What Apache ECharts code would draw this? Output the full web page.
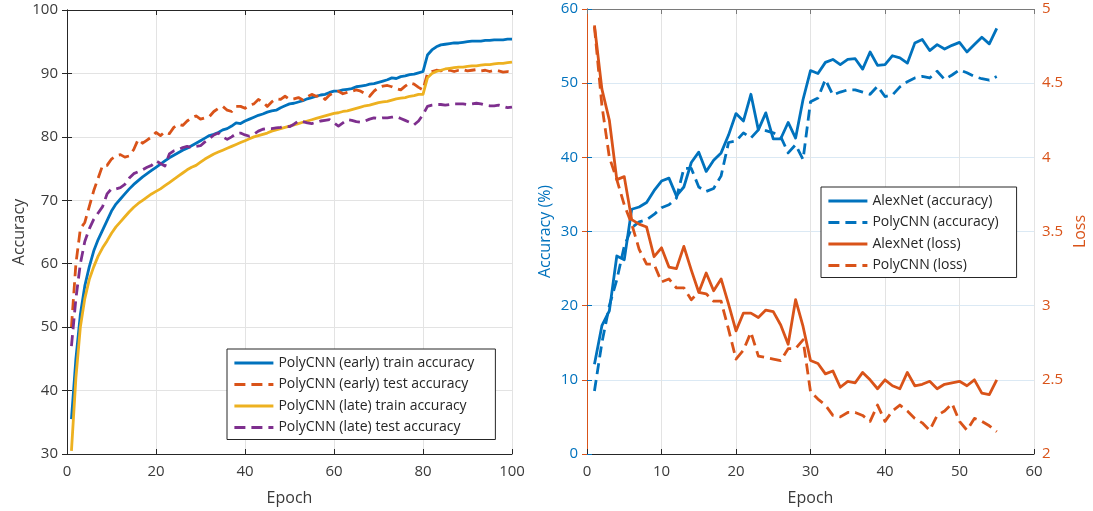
<!DOCTYPE html>
<html>
<head>
<meta charset="utf-8">
<script src="https://cdn.jsdelivr.net/npm/echarts@6/dist/echarts.min.js"></script>
<style>
html,body{margin:0;padding:0;background:#fff;}
#chart{width:1093px;height:511px;}
</style>
</head>
<body>
<div id="chart"></div>
<script>
// ---------- Left chart data (epochs 1..100) ----------
const earlyTrain = [35.5,45,52,56.5,59.5,62,63.8,65.3,66.8,68.3,69.4,70.2,71,71.8,72.5,73.1,73.7,74.2,74.7,75.2,75.7,76.2,76.7,77.1,77.5,77.9,78.2,78.6,79,79.4,79.8,80.2,80.4,80.7,81.1,81.3,81.7,82.2,82.1,82.5,82.8,83.1,83.4,83.6,83.9,84.1,84.2,84.6,84.9,85.2,85.3,85.5,85.7,86,86.2,86.4,86.6,86.7,87,87.2,87.2,87.4,87.5,87.6,87.9,88,88.1,88.3,88.4,88.6,88.8,89,89.3,89.2,89.5,89.6,89.8,89.9,90.1,90.3,92.9,93.7,94.2,94.5,94.6,94.7,94.8,94.8,94.9,95,95.1,95.1,95.1,95.2,95.2,95.3,95.3,95.3,95.4,95.4];
const earlyTest = [50,60,65.5,66.5,69,71.5,73.5,75.5,75.5,76.5,77,77.2,76.8,77,78,79.6,79,79.5,80,80.7,80.2,80.8,80.5,81.5,82,81.8,82.5,83,83.3,82.8,83,83.2,84,84.5,84.8,84.2,84,84.8,84.8,84.5,85,85.2,85.9,85.5,84.8,85.5,86,85.9,86.4,85.9,86,86.2,85.8,86.3,86.7,86.4,86.5,85.9,86.6,87,87.2,86.8,87,87.2,87.4,87.2,86.8,86.4,87.2,87.8,88,88.1,87.9,87.6,87.4,88,88.5,88.3,87.8,87.4,90,90.3,90.5,90.4,90.6,90.5,90.3,90.5,90.6,90.4,90.5,90.6,90.4,90.5,90.3,90.5,90.4,90.2,90.3,90.2];
const lateTrain = [30.5,42,50,54.5,57.5,59.5,61.2,62.5,63.6,64.8,65.8,66.6,67.4,68.2,68.9,69.5,70,70.5,71,71.4,71.8,72.3,72.8,73.3,73.8,74.3,74.8,75.2,75.5,76,76.5,76.9,77.3,77.6,77.9,78.2,78.5,78.8,79.1,79.4,79.7,80,80.2,80.4,80.6,80.9,81.1,81.3,81.5,81.7,81.9,82.1,82.3,82.5,82.7,82.9,83.1,83.3,83.5,83.7,83.8,84,84.1,84.3,84.5,84.7,84.9,85,85.2,85.4,85.5,85.6,85.8,86,86.1,86.2,86.4,86.5,86.7,86.7,89.3,90,90.3,90.5,90.7,90.8,90.9,91,91,91.1,91.2,91.2,91.3,91.4,91.4,91.5,91.6,91.6,91.7,91.8];
const lateTest = [47,54.5,60,63.5,65.5,67,68,69,71,71.8,71.8,72,72.5,73.5,74.2,74.5,74.8,75.2,75.5,76.2,75.8,75.4,77.3,77.8,78,78.3,78.5,78.3,78.5,78.6,79.2,79.7,80.3,80.6,80,79.6,80,80.5,80.6,80.3,80.1,80.4,80.9,81.2,81.3,81.3,81.4,81.5,81.7,81.6,82,82.5,82.4,82.2,82.1,82.3,82.5,82.6,82.7,82.2,81.7,82.2,82.7,82.6,82.4,82.3,82.5,82.8,83,82.9,83,83,83.1,83.2,82.9,82.6,82.3,81.9,82.5,83.5,84.8,85,85.1,85.1,85,85.1,85.2,85.2,85.2,85.1,85.2,85.3,85.2,85,84.9,84.9,85,84.8,84.6,84.7];

// ---------- Right chart data (epochs 1..55) ----------
const alexAcc = [12.1,17.3,19.3,26.7,26.2,33,33.3,33.9,35.5,36.8,37.2,34.8,36,39.3,40.7,38.1,39.6,40.6,43,45.9,44.9,48.5,43.7,46,42.5,42.5,44.7,42.6,47.8,51.7,51.3,52.8,53.2,52.5,53.2,53.3,51.9,54.2,52.4,52.5,53.7,53.4,52.7,55.4,55.9,54.4,55.2,54.6,55.1,55.5,54.2,55.2,56.2,55.3,57.4];
const polyAcc = [8.5,15,20,23.5,28,30.5,31.3,31.6,32.3,33.2,33.6,34.5,38.5,38.5,36,35.4,35.8,37.5,42,42.2,43.3,42.6,43.7,43.6,43.3,42.8,40.6,41.7,39.7,47.5,48,50.5,48.4,48.8,49.1,49.1,48.8,48.5,49.6,48.2,48.4,49.5,50.2,50.7,50.9,50.7,51.6,50.5,51.1,51.8,51.4,50.9,50.6,50.4,50.9];
const alexLoss = [4.89,4.46,4.25,3.85,3.87,3.58,3.55,3.53,3.33,3.39,3.26,3.25,3.40,3.24,3.09,3.22,3.10,3.18,3.01,2.83,2.95,2.95,2.92,2.97,2.96,2.87,2.74,3.04,2.86,2.63,2.61,2.54,2.56,2.45,2.49,2.48,2.55,2.50,2.44,2.50,2.46,2.44,2.55,2.46,2.47,2.49,2.44,2.47,2.48,2.49,2.46,2.50,2.41,2.40,2.50];
const polyLoss = [4.88,4.35,4.0,3.85,3.68,3.55,3.38,3.28,3.28,3.16,3.18,3.12,3.12,3.04,3.09,3.08,3.03,3.03,2.84,2.64,2.70,2.82,2.66,2.65,2.64,2.63,2.71,2.71,2.77,2.42,2.37,2.33,2.26,2.25,2.28,2.28,2.26,2.22,2.33,2.22,2.29,2.33,2.29,2.24,2.21,2.16,2.26,2.29,2.34,2.22,2.16,2.24,2.22,2.19,2.15];

const leftNames = ['PolyCNN (early) train accuracy','PolyCNN (early) test accuracy','PolyCNN (late) train accuracy','PolyCNN (late) test accuracy'];
const rightNames = ['AlexNet (accuracy)','PolyCNN (accuracy)','AlexNet (loss)','PolyCNN (loss)'];

const BLUE = '#0072BD', ORANGE = '#D95319', YELLOW = '#EDB120', PURPLE = '#7E2F8E';
const FONT = 'Open Sans';
const TXT = '#3a3a3a';
const DASH = [11, 6];
const LW = 2.8;

function pairs(arr){ return arr.map((v,i)=>[i+1, v]); }

function line(name, data, color, dashed, xi, yi){
  return {
    name: name, type: 'line', xAxisIndex: xi, yAxisIndex: yi,
    data: pairs(data), symbol: 'none', showSymbol: false, smooth: false,
    clip: true, animation: false,
    lineStyle: {color: color, width: LW, type: dashed ? DASH : 'solid', cap: 'butt', join: 'round'},
    itemStyle: {color: color}
  };
}

const tickLbl = {fontFamily: FONT, fontSize: 15, color: TXT};
const nameStyle = {fontFamily: FONT, fontSize: 16, color: TXT};

function legendOf(names, left, top, padRight){
  return {
    data: names.map(n => ({name: n, itemStyle: {opacity: 0}})),
    orient: 'vertical', left: left, top: top,
    itemWidth: 39, itemHeight: 14, itemGap: 7.5, padding: [7, padRight, 5, 6],
    backgroundColor: '#fff', borderColor: '#262626', borderWidth: 1, borderRadius: 0,
    itemStyle: {opacity: 0},
    lineStyle: {width: LW},
    textStyle: {fontFamily: FONT, fontSize: 14, color: '#262626'},
    selectedMode: false
  };
}

const option = {
  backgroundColor: '#fff',
  animation: false,
  grid: [
    {left: 67, top: 10, width: 445, height: 445, show: false},
    {left: 587, top: 9, width: 447, height: 446, show: false}
  ],
  xAxis: [
    {gridIndex: 0, type: 'value', min: 0, max: 100, interval: 20, position: 'bottom',
     name: 'Epoch', nameLocation: 'middle', nameGap: 36, nameTextStyle: nameStyle,
     axisLine: {show: true, lineStyle: {color: '#262626', width: 1}},
     axisTick: {show: true, inside: true, length: 5, lineStyle: {color: '#262626'}},
     axisLabel: Object.assign({margin: 10}, tickLbl),
     splitLine: {show: true, lineStyle: {color: '#e3e3e3', width: 1}}},
    {gridIndex: 0, type: 'value', min: 0, max: 100, interval: 20, position: 'top',
     axisLine: {show: true, lineStyle: {color: '#262626', width: 1}},
     axisTick: {show: true, inside: true, length: 5, lineStyle: {color: '#262626'}},
     axisLabel: {show: false}, splitLine: {show: false}},
    {gridIndex: 1, type: 'value', min: 0, max: 60, interval: 10, position: 'bottom',
     name: 'Epoch', nameLocation: 'middle', nameGap: 36, nameTextStyle: nameStyle,
     axisLine: {show: true, lineStyle: {color: '#262626', width: 1}},
     axisTick: {show: true, inside: true, length: 5, lineStyle: {color: '#262626'}},
     axisLabel: Object.assign({margin: 10}, tickLbl),
     splitLine: {show: true, lineStyle: {color: '#e3e3e3', width: 1}}},
    {gridIndex: 1, type: 'value', min: 0, max: 60, interval: 10, position: 'top',
     axisLine: {show: true, lineStyle: {color: '#7a7a7a', width: 1}},
     axisTick: {show: true, inside: true, length: 5, lineStyle: {color: '#7a7a7a'}},
     axisLabel: {show: false}, splitLine: {show: false}}
  ],
  yAxis: [
    {gridIndex: 0, type: 'value', min: 30, max: 100, interval: 10, position: 'left',
     name: 'Accuracy', nameLocation: 'middle', nameGap: 40, nameRotate: 90, nameTextStyle: nameStyle,
     axisLine: {show: true, lineStyle: {color: '#262626', width: 1}},
     axisTick: {show: true, inside: true, length: 5, lineStyle: {color: '#262626'}},
     axisLabel: Object.assign({margin: 9}, tickLbl),
     splitLine: {show: true, lineStyle: {color: '#e3e3e3', width: 1}}},
    {gridIndex: 0, type: 'value', min: 30, max: 100, interval: 10, position: 'right',
     axisLine: {show: true, lineStyle: {color: '#262626', width: 1}},
     axisTick: {show: true, inside: true, length: 5, lineStyle: {color: '#262626'}},
     axisLabel: {show: false}, splitLine: {show: false}},
    {gridIndex: 1, type: 'value', min: 0, max: 60, interval: 10, position: 'left',
     name: 'Accuracy (%)', nameLocation: 'middle', nameGap: 34, nameRotate: 90,
     nameTextStyle: {fontFamily: FONT, fontSize: 16, color: BLUE},
     axisLine: {show: true, lineStyle: {color: BLUE, width: 1}},
     axisTick: {show: true, inside: true, length: 5, lineStyle: {color: BLUE}},
     axisLabel: {margin: 9, fontFamily: FONT, fontSize: 15, color: BLUE},
     splitLine: {show: true, lineStyle: {color: '#dbe9f4', width: 1}}},
    {gridIndex: 1, type: 'value', min: 2, max: 5, interval: 0.5, position: 'right',
     name: 'Loss', nameLocation: 'middle', nameGap: 38, nameRotate: 90,
     nameTextStyle: {fontFamily: FONT, fontSize: 16, color: ORANGE},
     axisLine: {show: true, lineStyle: {color: ORANGE, width: 1}},
     axisTick: {show: true, inside: true, length: 5, lineStyle: {color: ORANGE}},
     axisLabel: {margin: 8, fontFamily: FONT, fontSize: 15, color: ORANGE},
     splitLine: {show: false}}
  ],
  legend: [
    legendOf(leftNames, 227, 349, 21),
    legendOf(rightNames, 821, 187, 18)
  ],
  series: [
    line(leftNames[0], earlyTrain, BLUE, false, 0, 0),
    line(leftNames[1], earlyTest, ORANGE, true, 0, 0),
    line(leftNames[2], lateTrain, YELLOW, false, 0, 0),
    line(leftNames[3], lateTest, PURPLE, true, 0, 0),
    line(rightNames[0], alexAcc, BLUE, false, 2, 2),
    line(rightNames[1], polyAcc, BLUE, true, 2, 2),
    line(rightNames[2], alexLoss, ORANGE, false, 2, 3),
    line(rightNames[3], polyLoss, ORANGE, true, 2, 3)
  ]
};

const chart = echarts.init(document.getElementById('chart'), null, {renderer: 'canvas'});
chart.setOption(option);
</script>
</body>
</html>
